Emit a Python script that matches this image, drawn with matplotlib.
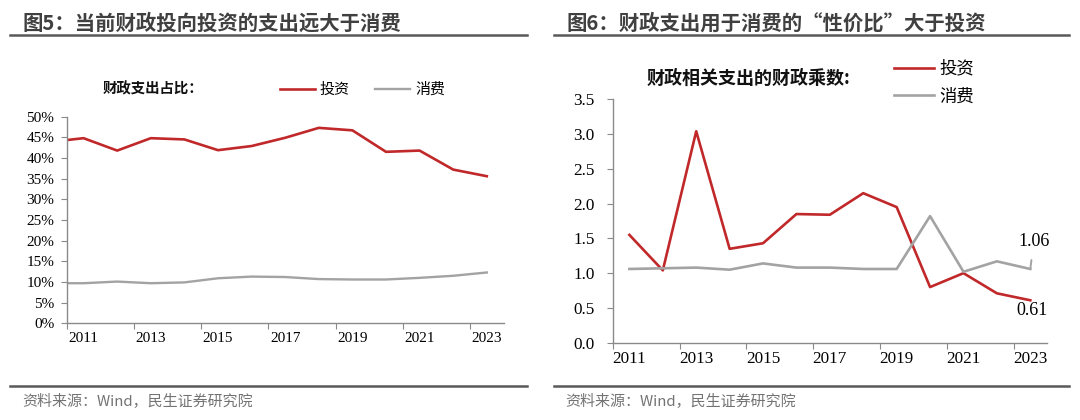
import numpy as np
import matplotlib.pyplot as plt

plt.rcParams['font.family'] = ['Noto Sans CJK SC', 'DejaVu Sans']

# 图5 数据（2010 仅用于画出起点，落在坐标轴外）
years5 = [2010, 2011, 2012, 2013, 2014, 2015, 2016, 2017, 2018, 2019, 2020, 2021, 2022, 2023]
invest5 = [43.9, 44.8, 41.8, 44.8, 44.5, 41.9, 42.9, 44.9, 47.3, 46.7, 41.5, 41.8, 37.2, 35.6]
consume5 = [9.7, 9.7, 10.1, 9.7, 9.9, 10.9, 11.3, 11.2, 10.7, 10.6, 10.6, 11.0, 11.5, 12.3]

# 图6 数据
years6 = [2011, 2012, 2013, 2014, 2015, 2016, 2017, 2018, 2019, 2020, 2021, 2022, 2023]
invest6 = [1.55, 1.04, 3.04, 1.35, 1.43, 1.85, 1.84, 2.15, 1.95, 0.80, 1.00, 0.71, 0.61]
consume6 = [1.06, 1.07, 1.08, 1.05, 1.14, 1.08, 1.08, 1.06, 1.06, 1.82, 1.02, 1.17, 1.06]

year_labels = ['2011', '2013', '2015', '2017', '2019', '2021', '2023']

RED = '#C0282A'
GRAY = '#A3A3A3'
SERIF = 'Liberation Serif'
W, H = 1080, 420

fig = plt.figure(figsize=(W / 100, H / 100), dpi=100)


def rect(x0, y0, x1, y1):
    return [x0 / W, 1 - y1 / H, (x1 - x0) / W, (y1 - y0) / H]


def fx(x):
    return x / W


def fy(y):
    return 1 - y / H


def style_axis(ax, fs, ypad):
    for s in ['top', 'right']:
        ax.spines[s].set_visible(False)
    for s in ['left', 'bottom']:
        ax.spines[s].set_color('#8a8a8a')
        ax.spines[s].set_linewidth(1.0)
    ax.set_xlim(-0.5, 12.5)
    ax.set_xticks(np.arange(-0.5, 12, 2))
    ax.set_xticklabels([])
    ax.set_xticks(np.arange(0, 13, 2), minor=True)
    ax.set_xticklabels(year_labels, minor=True, fontsize=fs, family=SERIF)
    ax.tick_params(axis='x', which='major', length=4, color='#8a8a8a', direction='out')
    ax.tick_params(axis='x', which='minor', length=0, pad=6)
    ax.tick_params(axis='y', length=4, color='#8a8a8a', direction='out', pad=ypad, labelsize=fs)
    for t in ax.get_yticklabels():
        t.set_family(SERIF)


# ---------- 图5 ----------
ax1 = fig.add_axes(rect(66.8, 116.7, 503.6, 323.3))
x5 = np.arange(len(years5)) - 1
ax1.plot(x5, invest5, color=RED, lw=1.9, label='投资')
ax1.plot(x5, consume5, color=GRAY, lw=1.7, label='消费')
ax1.set_ylim(0, 50)
ax1.set_yticks(np.arange(0, 51, 5))
ax1.set_yticklabels([f'{v}%' for v in range(0, 51, 5)])
style_axis(ax1, 11, 5)
fig.text(fx(103), fy(89), '财政支出占比：', fontsize=10.4, fontweight='bold', va='center', color='#111111')
fig.legend(handles=ax1.get_lines(), loc='center left', bbox_to_anchor=(fx(280), fy(90)),
           ncol=2, frameon=False, fontsize=10.8, handlelength=2.3, handletextpad=0.35,
           columnspacing=1.7, borderpad=0, borderaxespad=0)

# ---------- 图6 ----------
ax2 = fig.add_axes(rect(612.7, 99.3, 1047, 342.7))
x6 = np.arange(len(years6))
l1, = ax2.plot(x6, invest6, color=RED, lw=1.9, label='投资')
l2, = ax2.plot(x6, consume6, color=GRAY, lw=1.9, label='消费')
ax2.set_ylim(0, 3.5)
ax2.set_yticks(np.arange(0, 3.51, 0.5))
ax2.set_yticklabels([f'{v:.1f}' for v in np.arange(0, 3.51, 0.5)])
style_axis(ax2, 12.3, 9)
ax2.annotate(f'{consume6[-1]:.2f}', xy=(x6[-1], consume6[-1]), xytext=(2.5, 19.5),
             textcoords='offset points', ha='center', va='center', fontsize=13, family=SERIF,
             arrowprops=dict(arrowstyle='-', color=GRAY, lw=1.4, shrinkA=5, shrinkB=0))
ax2.annotate(f'{invest6[-1]:.2f}', xy=(x6[-1], invest6[-1]), xytext=(1.5, -7.5),
             textcoords='offset points', ha='center', va='center', fontsize=13, family=SERIF)
fig.text(fx(647), fy(78), '财政相关支出的财政乘数:', fontsize=13, fontweight='bold', va='center', color='#111111')
fig.legend(handles=[l1, l2], loc='center left', bbox_to_anchor=(fx(894), fy(82.5)),
           ncol=1, frameon=False, fontsize=12.5, handlelength=2.3, handletextpad=0.3,
           labelspacing=0.55, borderpad=0, borderaxespad=0)

# ---------- 标题、分隔线、来源 ----------
TITLE_C = '#404040'
fig.text(fx(22.5), fy(23), '图5：当前财政投向投资的支出远大于消费', fontsize=14.7,
         fontweight='bold', va='center', color=TITLE_C)
fig.text(fx(566), fy(23), '图6：财政支出用于消费的“性价比”大于投资', fontsize=14.7,
         fontweight='bold', va='center', color=TITLE_C)
for (a, b) in [(10, 527), (554, 1069)]:
    fig.add_artist(plt.Line2D([fx(a), fx(b)], [fy(35), fy(35)], color='#595959', lw=1.8))
    fig.add_artist(plt.Line2D([fx(a), fx(b)], [fy(386), fy(386)], color='#595959', lw=1.8))
fig.text(fx(22), fy(402), '资料来源：Wind，民生证券研究院', fontsize=10.8, va='center', color='#737373')
fig.text(fx(565), fy(402), '资料来源：Wind，民生证券研究院', fontsize=10.8, va='center', color='#737373')

fig.savefig('out.png', dpi=100)
